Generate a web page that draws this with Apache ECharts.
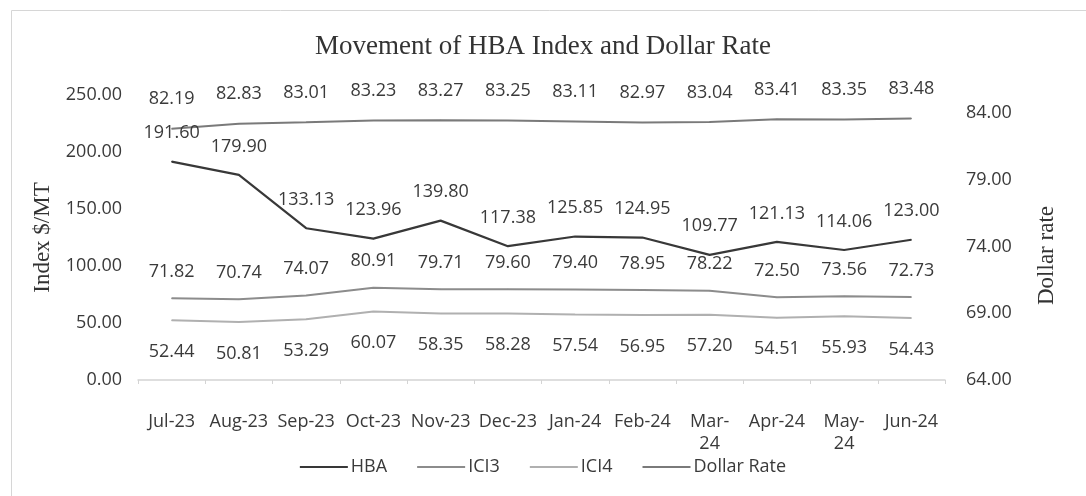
<!DOCTYPE html>
<html>
<head>
<meta charset="utf-8">
<script src="https://cdn.jsdelivr.net/npm/echarts@6/dist/echarts.min.js"></script>
<style>
html,body{margin:0;padding:0;background:#fff;}
#c{width:1086px;height:496px;}
</style>
</head>
<body>
<div id="c"></div>
<script>
const categories = ['Jul-23','Aug-23','Sep-23','Oct-23','Nov-23','Dec-23','Jan-24','Feb-24','Mar-24','Apr-24','May-24','Jun-24'];
const xTickLabels = ['Jul-23','Aug-23','Sep-23','Oct-23','Nov-23','Dec-23','Jan-24','Feb-24','Mar-\n24','Apr-24','May-\n24','Jun-24'];
const hba = [191.60,179.90,133.13,123.96,139.80,117.38,125.85,124.95,109.77,121.13,114.06,123.00];
const ici3 = [71.82,70.74,74.07,80.91,79.71,79.60,79.40,78.95,78.22,72.50,73.56,72.73];
const ici4 = [52.44,50.81,53.29,60.07,58.35,58.28,57.54,56.95,57.20,54.51,55.93,54.43];
const dollarRate = [82.19,82.83,83.01,83.23,83.27,83.25,83.11,82.97,83.04,83.41,83.35,83.48];
const leftTicks = [0,50,100,150,200,250];
const rightTicks = [64,69,74,79,84];

const sans = '"Open Sans", "Noto Sans", sans-serif';
const serif = '"Liberation Serif", "DejaVu Serif", serif';
const fmt = v => Number(v).toFixed(2);

const chart = echarts.init(document.getElementById('c'), null, {renderer:'canvas'});
const lbl = (pos, dist) => ({show:true, position:pos, distance:dist, formatter:p=>fmt(p.value), fontFamily:sans, fontSize:18, color:'#3a3a3a'});
const mkSeries = (name, data, axis, color, width, pos, dist, z) => ({
  name:name, type:'line', data:data, yAxisIndex:axis, showSymbol:true, symbol:'circle', symbolSize:1,
  lineStyle:{color:color, width:width}, itemStyle:{color:color}, label:lbl(pos, dist), z:z,
  emphasis:{disabled:true}
});

chart.setOption({
  backgroundColor:'#ffffff',
  animation:false,
  graphic:[{type:'rect', shape:{x:11.5,y:10.5,width:1200,height:600}, style:{fill:'none', stroke:'#d6d6d6', lineWidth:1}, silent:true}],
  title:{text:'Movement of HBA Index and Dollar Rate', left:'center', top:28,
    textStyle:{fontFamily:serif, fontSize:27, fontWeight:'normal', color:'#333'}},
  legend:{bottom:15, left:'center', itemWidth:48, itemHeight:2, itemGap:30,
    icon:'rect',
    textStyle:{fontFamily:sans, fontSize:18, color:'#3a3a3a', padding:[0,0,0,-2]},
    data:['HBA','ICI3','ICI4','Dollar Rate']},
  grid:{left:138, right:141, top:95, bottom:116},
  xAxis:{type:'category', data:categories, boundaryGap:true,
    axisLine:{lineStyle:{color:'#d4d4d4', width:1.5}},
    axisTick:{show:true, length:4, lineStyle:{color:'#d4d4d4'}},
    axisLabel:{interval:0, margin:31, fontFamily:sans, fontSize:18, color:'#3a3a3a', lineHeight:22,
      formatter:(v,i)=>xTickLabels[i]}},
  yAxis:[
    {type:'value', min:leftTicks[0], max:leftTicks[leftTicks.length-1], interval:50, position:'left',
      name:'Index $/MT', nameLocation:'middle', nameGap:84, nameRotate:90,
      nameTextStyle:{fontFamily:serif, fontSize:23, color:'#333'},
      axisLine:{show:false}, axisTick:{show:false}, splitLine:{show:false},
      axisLabel:{margin:16, fontFamily:sans, fontSize:18, color:'#3a3a3a', formatter:v=>fmt(v)}},
    {type:'value', min:rightTicks[0], max:85.35, interval:5, position:'right',
      name:'Dollar rate', nameLocation:'middle', nameGap:90, nameRotate:90,
      nameTextStyle:{fontFamily:serif, fontSize:23, color:'#333', padding:[0,0,0,-36]},
      axisLine:{show:false}, axisTick:{show:false}, splitLine:{show:false},
      axisLabel:{margin:21, fontFamily:sans, fontSize:18, color:'#3a3a3a',
        formatter:v=> rightTicks.indexOf(Math.round(v*100)/100)>=0 ? fmt(v) : ''}},
    {type:'value', min:50, max:86.5, show:false}
  ],
  series:[
    mkSeries('HBA', hba, 0, '#383838', 2.2, 'top', 19, 4),
    mkSeries('ICI3', ici3, 0, '#8c8c8c', 2, 'top', 17, 3),
    mkSeries('ICI4', ici4, 0, '#b0b0b0', 2, 'bottom', 22, 2),
    mkSeries('Dollar Rate', dollarRate, 2, '#7a7a7a', 2, 'top', 20, 3)
  ]
});
</script>
</body>
</html>
